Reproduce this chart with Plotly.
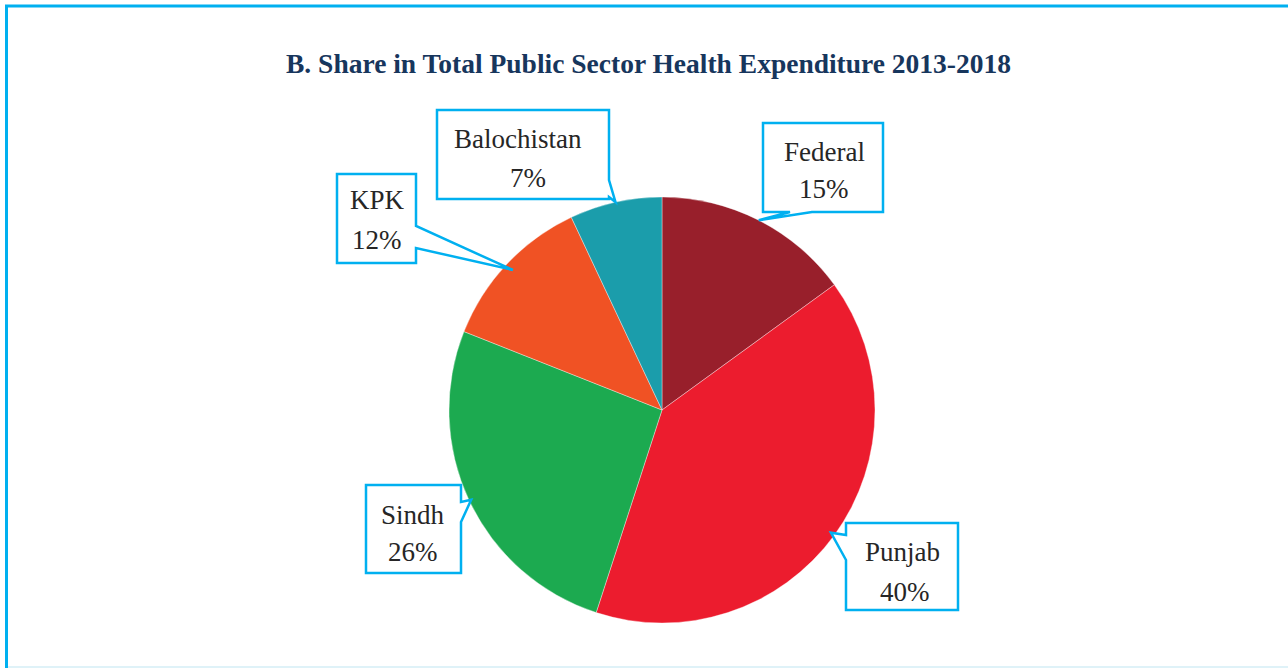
import math
import plotly.graph_objects as go

# Share of total public sector health expenditure, 2013-2018 (%)
regions = ["Federal", "Punjab", "Sindh", "KPK", "Balochistan"]
shares = [15, 40, 26, 12, 7]
slice_colors = ["#981F2B", "#EC1C2E", "#1CAA50", "#F05224", "#1B9DAB"]

W, H = 1288, 668
CX, CY, R = 662, 410, 213          # pie centre and radius in pixels
BORDER = "#00B0F0"
TEXT = "#262626"
FONT = "Liberation Serif"

fig = go.Figure()

fig.add_trace(go.Pie(
    labels=regions,
    values=shares,
    sort=False,
    direction="clockwise",
    rotation=0,
    textinfo="none",
    hoverinfo="label+percent",
    marker=dict(colors=slice_colors, line=dict(color="rgba(255,255,255,0.45)", width=0.8)),
    domain=dict(x=[(CX - R) / W, (CX + R) / W], y=[(H - CY - R) / H, (H - CY + R) / H]),
    showlegend=False,
))

# Callout boxes: box edges, where the pointer leaves the box, tip radius factor,
# and the text centres for the name and percentage lines.
callouts = {
    "Federal":     dict(box=(763, 123, 883, 212), side="bottom", base=(812, 790), rf=1.0,
                        name_xy=(824, 152), pct_xy=(824, 189)),
    "Punjab":      dict(box=(846, 523, 958, 610), side="left", base=(560, 535), rf=0.98,
                        name_xy=(902, 552), pct_xy=(905, 592)),
    "Sindh":       dict(box=(366, 485, 461, 573), side="right", base=(502, 522), rf=0.99,
                        name_xy=(413, 515), pct_xy=(413, 552)),
    "KPK":         dict(box=(337, 174, 416, 263), side="right", base=(226, 248), rf=0.96,
                        name_xy=(377, 200), pct_xy=(377, 240)),
    "Balochistan": dict(box=(437, 110, 609, 199), side="right", base=(180, 197), rf=1.0,
                        name_xy=(518, 139), pct_xy=(528, 178)),
}

total = sum(shares)
cum = 0.0
shapes = []
annotations = []
for name, val in zip(regions, shares):
    theta = 2 * math.pi * (cum + val / 2) / total   # clockwise from 12 o'clock
    cum += val
    c = callouts[name]
    tx = CX + c["rf"] * R * math.sin(theta)
    ty = CY - c["rf"] * R * math.cos(theta)
    L, T, Rt, B = c["box"]
    b1, b2 = c["base"]
    if c["side"] == "bottom":
        pts = [(L, T), (Rt, T), (Rt, B), (b1, B), (tx, ty), (b2, B), (L, B)]
    elif c["side"] == "left":
        pts = [(L, T), (Rt, T), (Rt, B), (L, B), (L, b1), (tx, ty), (L, b2)]
    else:
        pts = [(L, T), (Rt, T), (Rt, b1), (tx, ty), (Rt, b2), (Rt, B), (L, B)]
    path = "M " + " L ".join(f"{x:.1f},{y:.1f}" for x, y in pts) + " Z"
    shapes.append(dict(type="path", path=path, xref="x", yref="y",
                       fillcolor="white", line=dict(color=BORDER, width=2.5), layer="above"))
    for txt, (x, y) in ((name, c["name_xy"]), (f"{val}%", c["pct_xy"])):
        annotations.append(dict(text=txt, x=x, y=y, xref="x", yref="y", showarrow=False,
                                xanchor="center", yanchor="middle",
                                font=dict(family=FONT, size=27, color=TEXT)))

# Frame around the chart
shapes += [
    dict(type="line", xref="x", yref="y", x0=5, x1=W, y0=6, y1=6,
         line=dict(color=BORDER, width=3), layer="above"),
    dict(type="line", xref="x", yref="y", x0=6.5, x1=6.5, y0=5, y1=H,
         line=dict(color=BORDER, width=3), layer="above"),
    dict(type="line", xref="x", yref="y", x0=8, x1=W, y0=667, y1=667,
         line=dict(color="#D4EEF6", width=1.5), layer="above"),
]

annotations.append(dict(
    text="<b>B. Share in Total Public Sector Health Expenditure 2013-2018</b>",
    x=648, y=63, xref="x", yref="y", showarrow=False, xanchor="center", yanchor="middle",
    font=dict(family=FONT, size=27.5, color="#17365D"),
))

fig.update_layout(
    width=W, height=H,
    margin=dict(l=0, r=0, t=0, b=0),
    paper_bgcolor="white", plot_bgcolor="rgba(0,0,0,0)",
    xaxis=dict(range=[0, W], visible=False, domain=[0, 1], fixedrange=True),
    yaxis=dict(range=[H, 0], visible=False, domain=[0, 1], fixedrange=True),
    shapes=shapes,
    annotations=annotations,
)

fig.write_html("out.html")
